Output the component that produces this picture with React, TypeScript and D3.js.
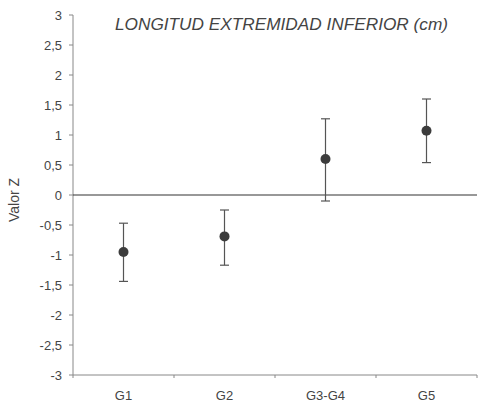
import React from "react";
import * as d3 from "d3";

const categories = ["G1", "G2", "G3-G4", "G5"];
const means = [-0.95, -0.69, 0.6, 1.07];
const upper = [-0.47, -0.25, 1.27, 1.6];
const lower = [-1.44, -1.17, -0.1, 0.54];
const yTicks = [3, 2.5, 2, 1.5, 1, 0.5, 0, -0.5, -1, -1.5, -2, -2.5, -3];
const title = "LONGITUD EXTREMIDAD INFERIOR (cm)";
const yLabel = "Valor Z";

const W = 481, H = 404;
const left = 73, right = 477, top = 15, bottom = 375;

export default function App() {
  const x = d3.scaleBand<string>().domain(categories).range([left, right]);
  const y = d3.scaleLinear().domain([-3, 3]).range([bottom, top]);
  const fmt = (v: number) => String(v).replace(".", ",");
  const font = "Liberation Sans, Arial, sans-serif";
  const boundaries = categories.map((c) => x(c)!).concat([right]);
  return (
    <svg width={W} height={H} style={{ position: "absolute", left: 0, top: 0, background: "#fff" }}>
      <rect x={0} y={0} width={W} height={H} fill="#fff" />
      {/* y axis */}
      <line x1={left} x2={left} y1={top} y2={bottom} stroke="#888" strokeWidth={1} />
      {yTicks.map((t) => (
        <g key={t}>
          <line x1={left - 4} x2={left} y1={y(t)} y2={y(t)} stroke="#888" />
          <text x={left - 11} y={y(t)} dy="0.36em" textAnchor="end" fontSize={13} fill="#444" fontFamily={font}>
            {fmt(t)}
          </text>
        </g>
      ))}
      {/* x axis at bottom */}
      <line x1={left} x2={right} y1={bottom} y2={bottom} stroke="#888" />
      {boundaries.map((b, i) => (
        <line key={i} x1={b} x2={b} y1={bottom} y2={bottom + 3} stroke="#888" />
      ))}
      {categories.map((c) => (
        <text key={c} x={x(c)! + x.bandwidth() / 2} y={bottom + 25} textAnchor="middle" fontSize={13} fill="#444" fontFamily={font}>
          {c}
        </text>
      ))}
      {/* zero line */}
      <line x1={left} x2={right} y1={y(0)} y2={y(0)} stroke="#333" strokeWidth={1.2} />
      {/* error bars */}
      {categories.map((c, i) => {
        const cx = x(c)! + x.bandwidth() / 2;
        return (
          <g key={c}>
            <line x1={cx} x2={cx} y1={y(upper[i])} y2={y(lower[i])} stroke="#555" strokeWidth={1.2} />
            <line x1={cx - 4.5} x2={cx + 4.5} y1={y(upper[i])} y2={y(upper[i])} stroke="#555" strokeWidth={1.2} />
            <line x1={cx - 4.5} x2={cx + 4.5} y1={y(lower[i])} y2={y(lower[i])} stroke="#555" strokeWidth={1.2} />
            <circle cx={cx} cy={y(means[i])} r={5} fill="#3c3c3c" />
          </g>
        );
      })}
      <text x={115} y={30} fontSize={16} fontStyle="italic" fill="#444" fontFamily={font} textLength={333} lengthAdjust="spacingAndGlyphs">
        {title}
      </text>
      <text transform={`translate(19,${y(0) + 5}) rotate(-90)`} textAnchor="middle" fontSize={14} fill="#444" fontFamily={font}>
        {yLabel}
      </text>
    </svg>
  );
}
